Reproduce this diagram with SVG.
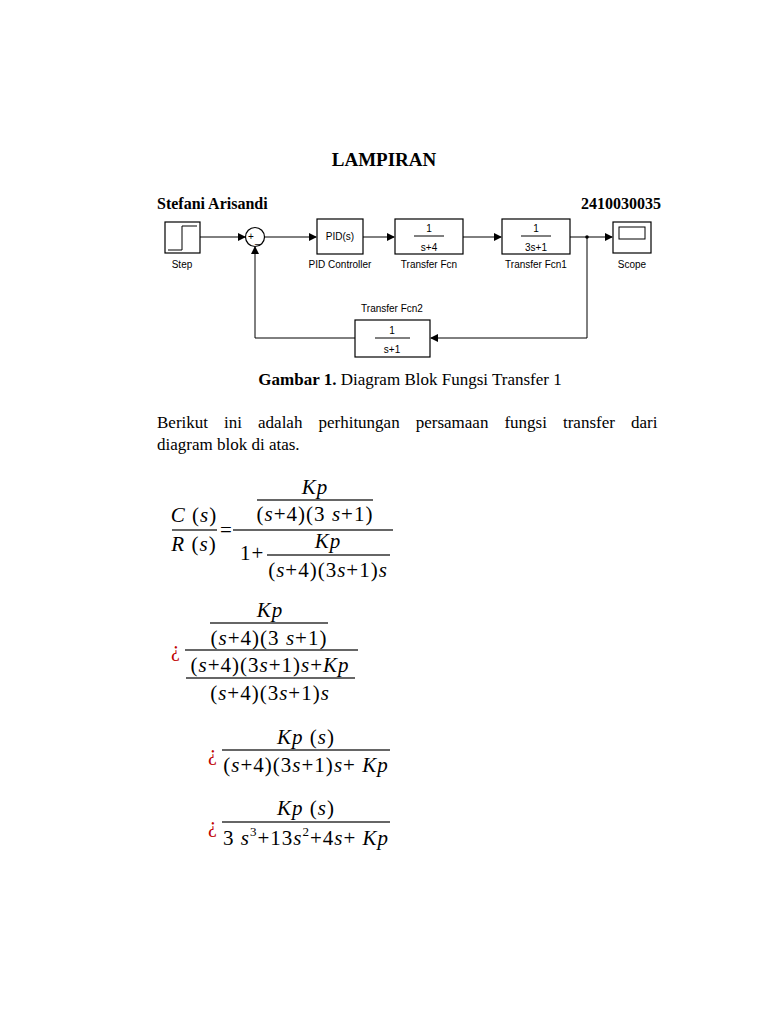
<svg xmlns="http://www.w3.org/2000/svg" width="768" height="1024" viewBox="0 0 768 1024">
<defs>
<marker id="ar" markerWidth="8" markerHeight="8" refX="7" refY="4" orient="auto" markerUnits="userSpaceOnUse"><path d="M0,0 L8,4 L0,8 z" fill="#000"/></marker>
</defs>
<style>
.blk{fill:#fff;stroke:#000;stroke-width:1.2}
.sl{font-family:"Liberation Sans",Arial,sans-serif;font-size:10px;fill:#000}
.ln{stroke:#000;stroke-width:1;fill:none}
.t{font-family:"Liberation Serif","Times New Roman",serif;fill:#000}
.m{font-family:"Liberation Serif","Times New Roman",serif;font-size:21px;fill:#000;letter-spacing:1px}
.fl{stroke:#333;stroke-width:1.3}
.q{font-family:"Liberation Serif",serif;font-size:20px;fill:#c00000}
</style>
<rect width="768" height="1024" fill="#fff"/>
<text class="t" x="384" y="166" font-size="19" font-weight="bold" text-anchor="middle">LAMPIRAN</text>
<text class="t" x="157" y="209" font-size="16" font-weight="bold">Stefani Arisandi</text>
<text class="t" x="661" y="209" font-size="16" font-weight="bold" text-anchor="end">2410030035</text>

<g id="connectors">
<path class="ln" d="M200,237 H245" marker-end="url(#ar)"/>
<path class="ln" d="M264,237 H316" marker-end="url(#ar)"/>
<path class="ln" d="M363,237 H394" marker-end="url(#ar)"/>
<path class="ln" d="M463,237 H501" marker-end="url(#ar)"/>
<path class="ln" d="M570,237 H612" marker-end="url(#ar)"/>
<path class="ln" d="M587,237 V338 H431" marker-end="url(#ar)"/>
<path class="ln" d="M355,338 H255 V247" marker-end="url(#ar)"/>
<circle cx="587" cy="237" r="1.8" fill="#000"/>
</g>
<g id="step"><rect class="blk" x="165" y="222" width="35" height="31"/><path d="M168,250 H182 V226 H197" class="ln"/><text class="sl" x="182" y="268" text-anchor="middle">Step</text></g>
<g id="sum"><circle cx="255" cy="237" r="9.5" class="blk"/><text class="sl" x="248" y="240">+</text><text class="sl" x="255" y="243">_</text></g>
<g id="pid"><rect class="blk" x="317" y="219" width="46" height="35"/><text class="sl" x="340" y="240" text-anchor="middle">PID(s)</text><text class="sl" x="340" y="268" text-anchor="middle">PID Controller</text></g>
<g id="tf"><rect class="blk" x="395" y="219" width="68" height="35"/><text class="sl" x="429" y="232" text-anchor="middle">1</text><line x1="414" y1="236" x2="444" y2="236" class="ln"/><text class="sl" x="429" y="251" text-anchor="middle" font-size="9">s+4</text><text class="sl" x="429" y="268" text-anchor="middle">Transfer Fcn</text></g>
<g id="tf1"><rect class="blk" x="502" y="219" width="68" height="35"/><text class="sl" x="536" y="232" text-anchor="middle">1</text><line x1="521" y1="236" x2="551" y2="236" class="ln"/><text class="sl" x="536" y="251" text-anchor="middle" font-size="9">3s+1</text><text class="sl" x="536" y="268" text-anchor="middle">Transfer Fcn1</text></g>
<g id="scope"><rect class="blk" x="613" y="222" width="38" height="31"/><rect x="619" y="227" width="26" height="12" class="ln"/><text class="sl" x="632" y="268" text-anchor="middle">Scope</text></g>
<g id="tf2"><rect class="blk" x="355" y="320" width="75" height="37"/><text class="sl" x="392" y="334" text-anchor="middle">1</text><line x1="375" y1="338" x2="410" y2="338" class="ln"/><text class="sl" x="392" y="353" text-anchor="middle" font-size="9">s+1</text><text class="sl" x="392" y="312" text-anchor="middle">Transfer Fcn2</text></g>

<text class="t" x="410" y="385" font-size="17" text-anchor="middle"><tspan font-weight="bold">Gambar 1.</tspan> Diagram Blok Fungsi Transfer 1</text>
<text class="t" x="157" y="428" font-size="17" word-spacing="11.8">Berikut ini adalah perhitungan persamaan fungsi transfer dari</text>
<text class="t" x="157" y="450" font-size="17">diagram blok di atas.</text>

<g id="eq1">
<text class="m" x="194" y="522" text-anchor="middle"><tspan font-style="italic">C</tspan> (<tspan font-style="italic">s</tspan>)</text>
<line class="fl" x1="172" y1="530" x2="217" y2="530"/>
<text class="m" x="194" y="551" text-anchor="middle"><tspan font-style="italic">R</tspan> (<tspan font-style="italic">s</tspan>)</text>
<text class="m" x="220" y="537">=</text>
<line class="fl" x1="233" y1="530" x2="393" y2="530"/>
<text class="m" x="315" y="494" text-anchor="middle" font-style="italic">Kp</text>
<line class="fl" x1="257" y1="500" x2="373" y2="500"/>
<text class="m" x="315" y="521" text-anchor="middle">(<tspan font-style="italic">s</tspan>+4)(3 <tspan font-style="italic">s</tspan>+1)</text>
<text class="m" x="240" y="560">1+</text>
<text class="m" x="328" y="548" text-anchor="middle" font-style="italic">Kp</text>
<line class="fl" x1="267" y1="555" x2="390" y2="555"/>
<text class="m" x="328" y="577" text-anchor="middle">(<tspan font-style="italic">s</tspan>+4)(3<tspan font-style="italic">s</tspan>+1)<tspan font-style="italic">s</tspan></text>
</g>
<g id="eq2">
<text class="q" x="171" y="656">¿</text>
<text class="m" x="270" y="617" text-anchor="middle" font-style="italic">Kp</text>
<line class="fl" x1="210" y1="623" x2="328" y2="623"/>
<text class="m" x="269" y="645" text-anchor="middle">(<tspan font-style="italic">s</tspan>+4)(3 <tspan font-style="italic">s</tspan>+1)</text>
<line class="fl" x1="185" y1="650" x2="358" y2="650"/>
<text class="m" x="270" y="672" text-anchor="middle">(<tspan font-style="italic">s</tspan>+4)(3<tspan font-style="italic">s</tspan>+1)<tspan font-style="italic">s</tspan>+<tspan font-style="italic">Kp</tspan></text>
<line class="fl" x1="186" y1="678" x2="355" y2="678"/>
<text class="m" x="270" y="700" text-anchor="middle">(<tspan font-style="italic">s</tspan>+4)(3<tspan font-style="italic">s</tspan>+1)<tspan font-style="italic">s</tspan></text>
</g>
<g id="eq3">
<text class="q" x="208" y="760">¿</text>
<text class="m" x="306" y="744" text-anchor="middle"><tspan font-style="italic">Kp</tspan> (<tspan font-style="italic">s</tspan>)</text>
<line class="fl" x1="222" y1="750" x2="390" y2="750"/>
<text class="m" x="306" y="772" text-anchor="middle">(<tspan font-style="italic">s</tspan>+4)(3<tspan font-style="italic">s</tspan>+1)<tspan font-style="italic">s</tspan>+ <tspan font-style="italic">Kp</tspan></text>
</g>
<g id="eq4">
<text class="q" x="208" y="832">¿</text>
<text class="m" x="306" y="815" text-anchor="middle"><tspan font-style="italic">Kp</tspan> (<tspan font-style="italic">s</tspan>)</text>
<line class="fl" x1="222" y1="822" x2="390" y2="822"/>
<text class="m" x="306" y="845" text-anchor="middle">3 <tspan font-style="italic">s</tspan><tspan font-size="13" dy="-9">3</tspan><tspan dy="9">+13</tspan><tspan font-style="italic">s</tspan><tspan font-size="13" dy="-9">2</tspan><tspan dy="9">+4</tspan><tspan font-style="italic">s</tspan>+ <tspan font-style="italic">Kp</tspan></text>
</g>
</svg>
